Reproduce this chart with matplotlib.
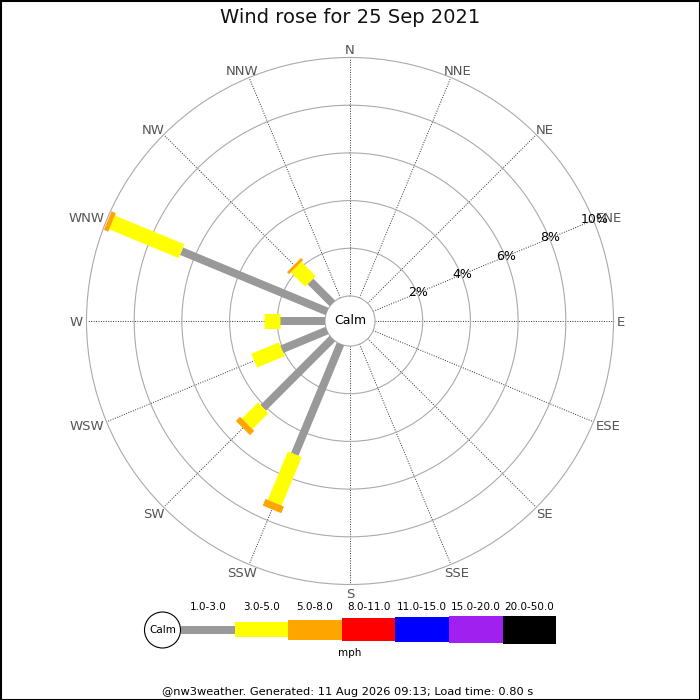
import numpy as np
import matplotlib
matplotlib.use('Agg')
import matplotlib.pyplot as plt
from matplotlib.patches import Rectangle, Circle
from matplotlib.transforms import offset_copy

# compass points, clockwise from north
directions = ['N', 'NNE', 'NE', 'ENE', 'E', 'ESE', 'SE', 'SSE',
              'S', 'SSW', 'SW', 'WSW', 'W', 'WNW', 'NW', 'NNW']

# speed bins (mph) and their colours
speed_bins = ['1.0-3.0', '3.0-5.0', '5.0-8.0', '8.0-11.0',
              '11.0-15.0', '15.0-20.0', '20.0-50.0']
bin_colors = ['#999999', '#ffff00', '#ffa500', '#ff0000',
              '#0000ff', '#a020f0', '#000000']

# frequency (%) per direction for each speed bin
pct_1_3 = [0, 0, 0, 0, 0, 0, 0, 0, 0, 5.0, 4.1, 2.05, 1.9, 6.6, 1.3, 0]
pct_3_5 = [0, 0, 0, 0, 0, 0, 0, 0, 0, 2.2, 0.95, 1.25, 0.65, 3.15, 0.85, 0]
pct_5_8 = [0, 0, 0, 0, 0, 0, 0, 0, 0, 0.3, 0.25, 0, 0, 0.2, 0.12, 0]
freqs = [pct_1_3, pct_3_5, pct_5_8]

ring_values = [2, 4, 6, 8, 10]
ring_labels = ['2%', '4%', '6%', '8%', '10%']

title = 'Wind rose for 25 Sep 2021'
footer = '@nw3weather. Generated: 11 Aug 2026 09:13; Load time: 0.80 s'

# bar thickness in pixels for each bin (also used in legend)
bar_px = [8, 15, 20, 23, 25, 27, 28]

fig = plt.figure(figsize=(7, 7), dpi=100)
px = 72 / fig.dpi
renderer = fig.canvas.get_renderer()

R = 263.5
calm_r = 25
cx, cy = 350, 321
ppp = (R - calm_r) / 10  # pixels per percent
ax = fig.add_axes([(cx - R) / 700, (700 - cy - R) / 700, 2 * R / 700, 2 * R / 700],
                  projection='polar')
ax.set_theta_zero_location('N')
ax.set_theta_direction(-1)
ax.set_ylim(0, 10)
ax.set_rorigin(-calm_r / ppp)
r0 = ax.get_rorigin()

theta = np.deg2rad(np.arange(16) * 22.5)
ax.set_xticks(theta)
ax.set_xticklabels([])
ax.set_yticks(ring_values[:-1])
ax.set_yticklabels([])
ax.xaxis.grid(True, color='#333333', linestyle=(0, (1, 1.5)), linewidth=0.7)
ax.yaxis.grid(True, color='#aaaaaa', linestyle='-', linewidth=0.8)
for name in ['polar', 'inner']:
    ax.spines[name].set_color('#aaaaaa')
    ax.spines[name].set_linewidth(0.8)

# direction labels: anchored just outside the ring, box shifted outward
r_lab = (R + 3.5) / ppp + r0
for th, name in zip(theta, directions):
    tmp = fig.text(0, 0, name, fontsize=9.5)
    hw = tmp.get_window_extent(renderer).width / 2
    tmp.remove()
    tr = offset_copy(ax.transData, fig=fig, x=hw * np.sin(th),
                     y=5 * np.cos(th) - 1.5, units='dots')
    ax.text(th, r_lab, name, ha='center', va='center', fontsize=9.5,
            color='#555555', clip_on=False, transform=tr)

# stacked radial bars
for d in range(16):
    start = 0
    for b, vals in enumerate(freqs):
        v = vals[d]
        if v <= 0:
            continue
        ax.plot([theta[d], theta[d]], [start, start + v], color=bin_colors[b],
                linewidth=bar_px[b] * px, solid_capstyle='butt', zorder=3,
                clip_on=False)
        start += v

# ring labels along ENE
lab_theta = np.deg2rad(67.5)
for v, lab in zip(ring_values, ring_labels):
    ax.text(lab_theta, v + 0.05, lab, ha='center', va='center', fontsize=9,
            color='black', zorder=4)
ax.text(0, r0, 'Calm', ha='center', va='center', fontsize=9)

# overlay axes in pixel units for title, legend, footer, border
ov = fig.add_axes([0, 0, 1, 1])
ov.set_xlim(0, 700)
ov.set_ylim(700, 0)
ov.axis('off')
ov.patch.set_alpha(0)

ov.text(350, 17.5, title, ha='center', va='center', fontsize=14, color='#111111')

leg_x0, leg_y, seg_w = 181, 629.5, 53.6
ov.add_patch(Circle((162.5, 630), 18, facecolor='white', edgecolor='black',
                    linewidth=0.8))
ov.text(162.5, 630, 'Calm', ha='center', va='center', fontsize=7.5)
for i, (lab, col, h) in enumerate(zip(speed_bins, bin_colors, bar_px)):
    x = leg_x0 + i * seg_w
    ov.add_patch(Rectangle((x, leg_y - h / 2), seg_w, h, facecolor=col,
                           edgecolor='none'))
    ov.text(x + seg_w / 2, 607, lab, ha='center', va='center', fontsize=7.5)
ov.text(350, 653, 'mph', ha='center', va='center', fontsize=7.5)

ov.text(348, 692, footer, ha='center', va='center', fontsize=8.2)
ov.add_patch(Rectangle((0.5, 0.5), 699, 699, facecolor='none',
                       edgecolor='black', linewidth=1.5))

fig.savefig('out.png', dpi=100)
